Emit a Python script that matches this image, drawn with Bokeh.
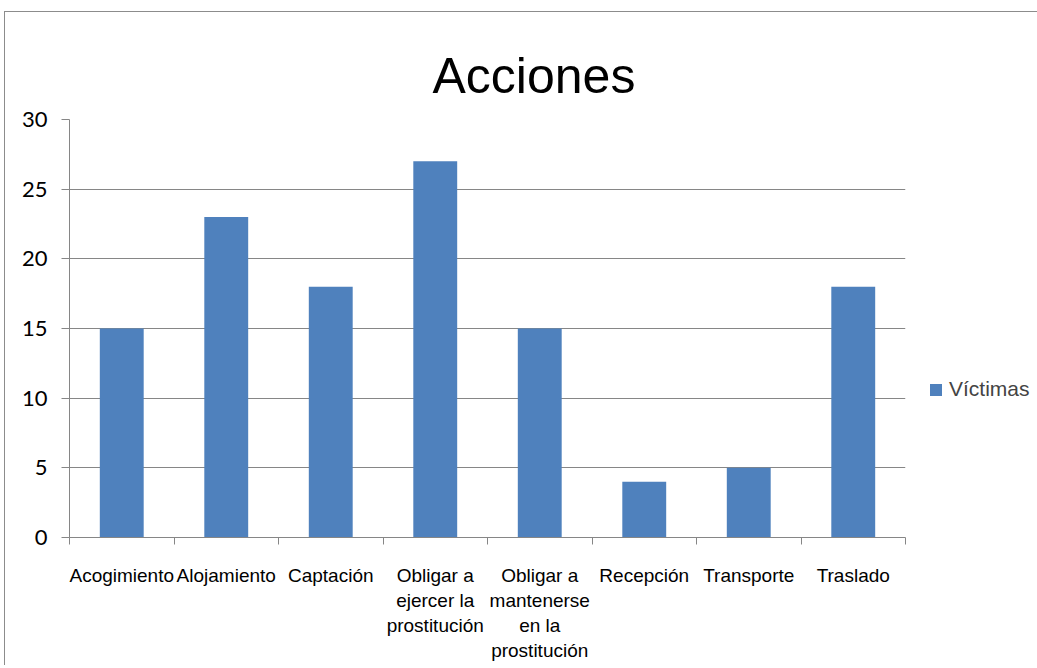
import numpy as np
from bokeh.plotting import figure
from bokeh.models import Range1d, FixedTicker, Legend, LegendItem, Title
from bokeh.embed import file_html
from bokeh.resources import INLINE

# ---- data ----
categories = ["Acogimiento", "Alojamiento", "Captación",
              "Obligar a\nejercer la\nprostitución",
              "Obligar a\nmantenerse\nen la\nprostitución",
              "Recepción", "Transporte", "Traslado"]
victimas = [15, 23, 18, 27, 15, 4, 5, 18]
y_ticks = [0, 5, 10, 15, 20, 25, 30]
chart_title = "Acciones"
series_name = "Víctimas"

SANS = "Liberation Sans"
GRAY = "#868686"
BLUE = "#4F81BD"

n = len(categories)
xc = np.arange(n) + 0.5

p = figure(output_backend="svg", toolbar_location=None,
           x_range=Range1d(0, n), y_range=Range1d(0, 30),
           frame_width=836, frame_height=418,
           min_border_left=64, min_border_right=126,
           min_border_top=107, min_border_bottom=128,
           title=None)
p.margin = (11, 0, 0, 4)
p.styles = {"border-left": "1px solid #8c8c8c", "border-top": "1px solid #8c8c8c"}
p.outline_line_color = None
p.background_fill_color = "white"
p.border_fill_color = "white"

r = p.vbar(x=xc, top=victimas, width=0.42, fill_color=BLUE, line_color=None)

t = Title(text=chart_title, align="left", offset=363, standoff=31,
          text_font=SANS, text_font_size="50px", text_font_style="normal",
          text_color="black")
p.add_layout(t, "above")

# x axis
xa = p.xaxis[0]
xa.ticker = FixedTicker(ticks=list(xc), minor_ticks=list(range(n + 1)))
xa.major_label_overrides = {float(x): c for x, c in zip(xc, categories)}
xa.major_tick_out = 0
xa.major_tick_in = 0
xa.minor_tick_out = 7
xa.minor_tick_in = 0
xa.minor_tick_line_color = GRAY
xa.axis_line_color = GRAY
xa.major_label_standoff = 20
xa.major_label_text_font = SANS
xa.major_label_text_font_size = "19px"
xa.major_label_text_color = "black"

# y axis
ya = p.yaxis[0]
ya.ticker = FixedTicker(ticks=y_ticks)
ya.major_tick_out = 8
ya.major_tick_in = 0
ya.minor_tick_out = 0
ya.minor_tick_in = 0
ya.major_tick_line_color = GRAY
ya.axis_line_color = GRAY
ya.major_label_standoff = 14
ya.major_label_text_font = "Lato"
ya.major_label_text_font_size = "22px"
ya.major_label_text_color = "black"

p.xgrid.grid_line_color = None
p.ygrid.grid_line_color = GRAY
p.ygrid.ticker = FixedTicker(ticks=y_ticks)

leg = Legend(items=[LegendItem(label=series_name, renderers=[r])],
             location=(23, 136), margin=0, padding=0,
             glyph_width=15, glyph_height=15, label_standoff=6,
             label_text_font=SANS, label_text_font_size="21px",
             border_line_color=None, background_fill_alpha=0)
p.add_layout(leg, "right")

open("out.html", "w").write(file_html(p, INLINE))
